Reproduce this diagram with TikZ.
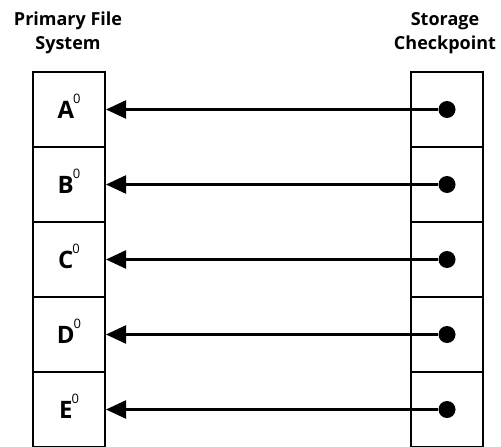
\documentclass[tikz,border=0pt]{standalone}
\usepackage{fontspec}
\setmainfont{Open Sans}
\usetikzlibrary{arrows.meta}
\newcommand{\blk}[1]{#1\kern-1pt\raisebox{15pt}[0pt][0pt]{\fontsize{13}{13}\mdseries\selectfont 0}}
\tikzset{cell/.style = {rectangle, line width=2pt, minimum width=72pt, minimum height=75pt, inner sep=0pt, draw,
                        font=\bfseries\fontsize{24}{26}\selectfont},
           dot/.style = {circle, fill, minimum size=17pt, inner sep=0pt},
           hd/.style = {align=center, inner sep=0pt, font=\bfseries\fontsize{18}{24}\selectfont},
           ptr/.style = {line width=2.3pt, -{Triangle[length=20pt, width=18pt]}}}
\begin{document}
\begin{tikzpicture}[x=1pt, y=-1pt]
    \useasboundingbox (0,0) rectangle (501,447);
    \node[hd] (pfs) at (68,33) {Primary File\\System};
    \node[hd] (sc)  at (445,33) {Storage\\Checkpoint};
    \node[cell] (a) at (69,109.5) {\blk{A}}; \node[cell] (ca) at (447,109.5) {};
    \node[cell] (b) at (69,184.5) {\blk{B}}; \node[cell] (cb) at (447,184.5) {};
    \node[cell] (c) at (69,259.5) {\blk{C}}; \node[cell] (cc) at (447,259.5) {};
    \node[cell] (d) at (69,334.5) {\blk{D}}; \node[cell] (cd) at (447,334.5) {};
    \node[cell] (e) at (69,409.5) {\blk{E}}; \node[cell] (ce) at (447,409.5) {};
    \node[dot] (pa) at (ca) {}; \node[dot] (pb) at (cb) {}; \node[dot] (pc) at (cc) {};
    \node[dot] (pd) at (cd) {}; \node[dot] (pe) at (ce) {};
    \draw[ptr] (pa) -- (a.east);
    \draw[ptr] (pb) -- (b.east);
    \draw[ptr] (pc) -- (c.east);
    \draw[ptr] (pd) -- (d.east);
    \draw[ptr] (pe) -- (e.east);
\end{tikzpicture}
\end{document}
